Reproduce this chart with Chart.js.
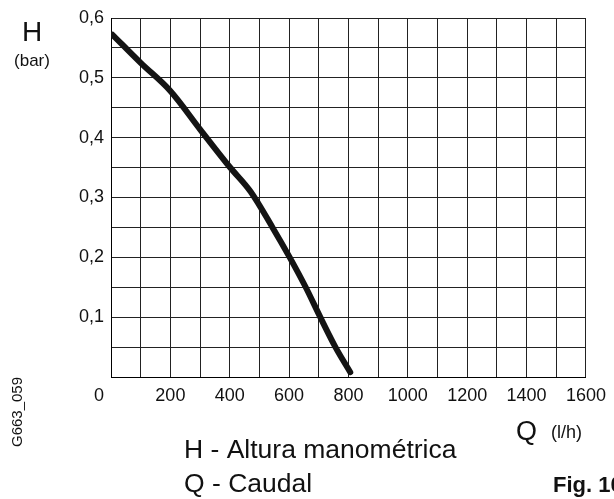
<!DOCTYPE html>
<html>
<head>
<meta charset="utf-8">
<script src="https://cdn.jsdelivr.net/npm/chart.js@4/dist/chart.umd.min.js"></script>
<style>
  html, body { margin: 0; padding: 0; background: #fff; }
  #wrap { position: relative; width: 614px; height: 499px; }
</style>
</head>
<body>
<div id="wrap"><canvas id="pumpChart"></canvas></div>
<script>
// ================= DATA =================
const caudal = [5, 100, 200, 300, 400, 470, 544, 602, 656, 705, 756, 806];          // Q (l/h)
const altura = [0.572, 0.525, 0.478, 0.414, 0.351, 0.310, 0.250, 0.200, 0.150, 0.100, 0.050, 0.008]; // H (bar)
const xTickLabels = [200, 400, 600, 800, 1000, 1200, 1400, 1600];
const yTickLabels = ["0,1", "0,2", "0,3", "0,4", "0,5", "0,6"];

const FONT = "'Liberation Sans', Arial, sans-serif";

// textos extra (titulos, leyenda, figura)
const textPlugin = {
  id: "textos",
  afterDraw(chart) {
    const c = chart.ctx;
    const xs = chart.scales.x;
    c.save();
    c.fillStyle = "#111";
    c.textBaseline = "alphabetic";

    c.textAlign = "center";
    c.font = "28px " + FONT;
    c.fillText("H", 32, 41);
    c.font = "17px " + FONT;
    c.fillText("(bar)", 32, 66);

    // etiqueta "0" del eje x, desplazada a la izquierda
    c.font = "18px " + FONT;
    c.textBaseline = "top";
    c.fillText("0", xs.getPixelForValue(0) - 12, chart.chartArea.bottom + 10);
    c.textBaseline = "alphabetic";

    c.textAlign = "left";
    c.font = "27px " + FONT;
    c.fillText("Q", 516, 440);
    c.font = "18px " + FONT;
    c.fillText("(l/h)", 551, 438);

    c.font = "26.5px " + FONT;
    c.fillText("H - Altura manométrica", 184, 458);
    c.fillText("Q - Caudal", 184, 492);

    c.font = "bold 22px " + FONT;
    c.fillText("Fig. 10", 553, 492);

    c.translate(22, 412);
    c.rotate(-Math.PI / 2);
    c.textAlign = "center";
    c.font = "15px " + FONT;
    c.fillText("G663_059", 0, 0);
    c.restore();
  }
};

const ctx = document.getElementById("pumpChart").getContext("2d");

window.pumpChart = new Chart(ctx, {
  type: "line",
  data: {
    datasets: [
      {
        label: "H",
        data: caudal.map((q, i) => ({ x: q, y: altura[i] })),
        borderColor: "#141414",
        borderWidth: 6,
        borderCapStyle: "round",
        borderJoinStyle: "round",
        pointRadius: 0,
        cubicInterpolationMode: "monotone",
        fill: false
      }
    ]
  },
  options: {
    responsive: true,
    maintainAspectRatio: false,
    animation: false,
    events: [],
    layout: {
      padding: { left: 0, top: 18, right: 24, bottom: 0 }
    },
    plugins: {
      legend: { display: false },
      tooltip: { enabled: false }
    },
    scales: {
      x: {
        type: "linear",
        min: 0,
        max: 1600,
        afterFit: s => { s.height = 122; },
        border: { display: true, color: "#000", width: 1 },
        grid: { color: "#222", lineWidth: 1, drawTicks: false },
        ticks: {
          stepSize: 100,
          autoSkip: false,
          maxRotation: 0,
          padding: 8,
          color: "#111",
          font: { family: FONT, size: 18 },
          callback: v => (xTickLabels.includes(v) ? String(v) : "")
        }
      },
      y: {
        min: 0,
        max: 0.6,
        afterFit: s => { s.width = 111; },
        border: { display: true, color: "#000", width: 1 },
        grid: { color: "#222", lineWidth: 1, drawTicks: false },
        ticks: {
          stepSize: 0.05,
          autoSkip: false,
          padding: 7,
          color: "#111",
          font: { family: FONT, size: 18 },
          callback: v => {
            const k = Math.round(v * 100);
            if (k === 0 || k % 10 !== 0) return "";
            return yTickLabels[k / 10 - 1];
          }
        }
      }
    }
  },
  plugins: [textPlugin]
});
</script>
</body>
</html>
